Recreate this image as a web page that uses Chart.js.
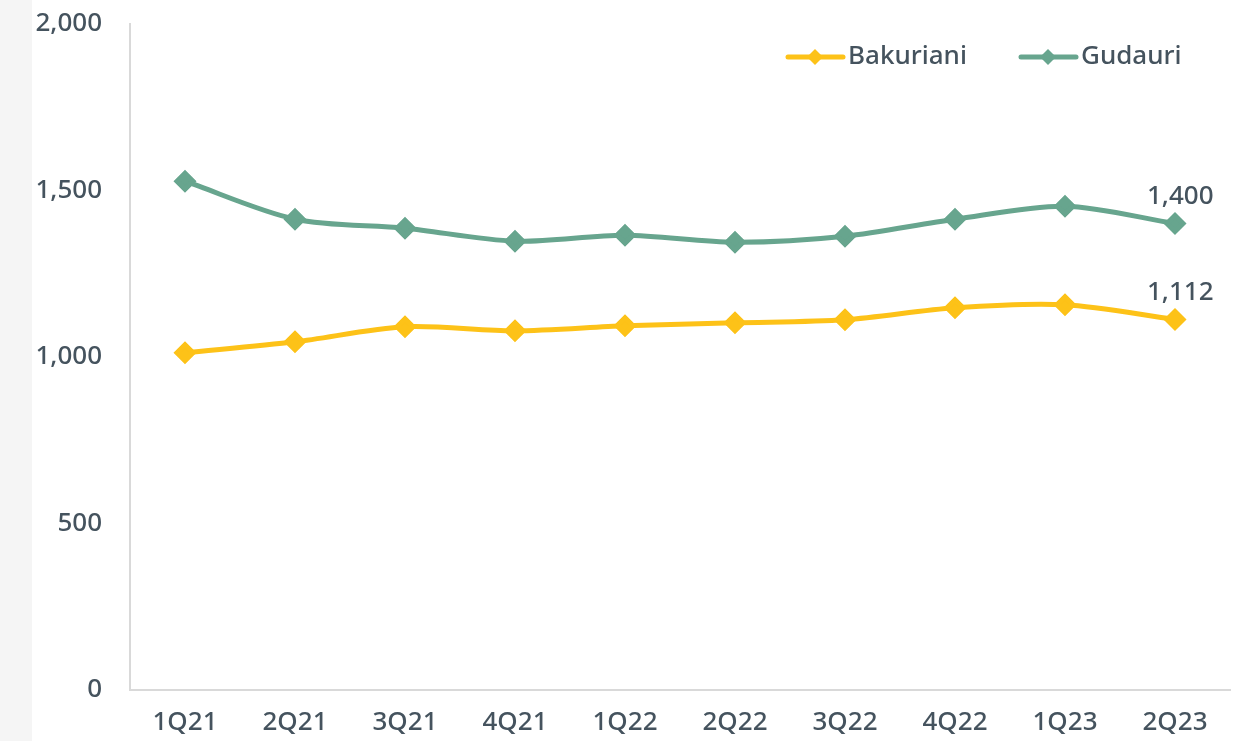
<!DOCTYPE html>
<html>
<head>
<meta charset="utf-8">
<script src="https://cdn.jsdelivr.net/npm/chart.js@4"></script>
<style>
  html, body { margin: 0; padding: 0; background: #fff; overflow: hidden; }
  #strip { position: absolute; left: 0; top: 0; width: 32px; height: 741px; background: #f5f5f5; }
  #wrap { position: absolute; left: 32px; top: -20px; width: 1214px; height: 761px; }
</style>
</head>
<body>
<div id="strip"></div>
<div id="wrap"><canvas id="chart"></canvas></div>
<script>
const quarters = ['1Q21', '2Q21', '3Q21', '4Q21', '1Q22', '2Q22', '3Q22', '4Q22', '1Q23', '2Q23'];
const bakuriani = [1012, 1045, 1090, 1078, 1093, 1102, 1111, 1147, 1156, 1112];
const gudauri = [1527, 1413, 1386, 1347, 1365, 1344, 1362, 1413, 1452, 1400];
const yTicks = [0, 500, 1000, 1500, 2000];

const textColor = '#45535e';
const fontFamily = '"Noto Sans", Lato, sans-serif';
const yellow = '#fdc218';
const green = '#67a58e';

// legend drawn inside the chart area, top right, line + diamond markers
const insideLegend = {
    id: 'insideLegend',
    afterDraw(chart) {
        const ctx = chart.ctx;
        const items = [
            { label: 'Bakuriani', color: yellow, x: 756 },
            { label: 'Gudauri', color: green, x: 989 }
        ];
        const y = 77;
        ctx.save();
        ctx.font = '500 26px ' + fontFamily;
        ctx.textBaseline = 'middle';
        items.forEach(it => {
            ctx.strokeStyle = it.color;
            ctx.lineWidth = 5;
            ctx.lineCap = 'round';
            ctx.beginPath();
            ctx.moveTo(it.x, y);
            ctx.lineTo(it.x + 55, y);
            ctx.stroke();
            ctx.fillStyle = it.color;
            ctx.beginPath();
            const cx = it.x + 27, r = 8;
            ctx.moveTo(cx, y - r);
            ctx.lineTo(cx + r, y);
            ctx.lineTo(cx, y + r);
            ctx.lineTo(cx - r, y);
            ctx.closePath();
            ctx.fill();
            ctx.fillStyle = textColor;
            ctx.fillText(it.label, it.x + 60, y);
        });
        ctx.restore();
    }
};

// value labels on the last point of each series
const lastLabels = {
    id: 'lastLabels',
    afterDatasetsDraw(chart) {
        const ctx = chart.ctx;
        ctx.save();
        ctx.font = '500 26px ' + fontFamily;
        ctx.fillStyle = textColor;
        ctx.textAlign = 'left';
        ctx.textBaseline = 'middle';
        chart.data.datasets.forEach((ds, i) => {
            const meta = chart.getDatasetMeta(i);
            const last = meta.data[meta.data.length - 1];
            const v = ds.data[ds.data.length - 1];
            ctx.fillText(v.toLocaleString('en-US'), last.x - 28, last.y - 27);
        });
        ctx.restore();
    }
};

new Chart(document.getElementById('chart'), {
    type: 'line',
    data: {
        labels: quarters,
        datasets: [{
            label: 'Bakuriani',
            data: bakuriani,
            borderColor: yellow,
            backgroundColor: yellow,
            borderWidth: 5,
            pointStyle: 'rectRot',
            pointRadius: 8,
            pointHoverRadius: 8,
            tension: 0.3
        }, {
            label: 'Gudauri',
            data: gudauri,
            borderColor: green,
            backgroundColor: green,
            borderWidth: 5,
            pointStyle: 'rectRot',
            pointRadius: 8,
            pointHoverRadius: 8,
            tension: 0.3
        }]
    },
    options: {
        responsive: true,
        maintainAspectRatio: false,
        animation: false,
        layout: { padding: { top: 4, right: 16, left: 0, bottom: 0 } },
        scales: {
            x: {
                offset: true,
                grid: { display: false, drawTicks: false },
                border: { color: '#d9d9d9', width: 2 },
                ticks: {
                    color: textColor,
                    font: { family: fontFamily, size: 26, weight: '500' },
                    padding: 17,
                    maxRotation: 0
                },
                afterFit: s => { s.height = 51; }
            },
            y: {
                min: 0,
                max: 2000,
                afterBuildTicks: s => { s.ticks = yTicks.map(v => ({ value: v })); },
                grid: { display: false, drawTicks: false },
                border: { color: '#d9d9d9', width: 2 },
                ticks: {
                    color: textColor,
                    font: { family: fontFamily, size: 26, weight: '500' },
                    padding: 28,
                    callback: v => v.toLocaleString('en-US')
                },
                afterFit: s => { s.width = 98; }
            }
        },
        plugins: {
            legend: { display: false },
            tooltip: { enabled: false }
        }
    },
    plugins: [insideLegend, lastLabels]
});
</script>
</body>
</html>
